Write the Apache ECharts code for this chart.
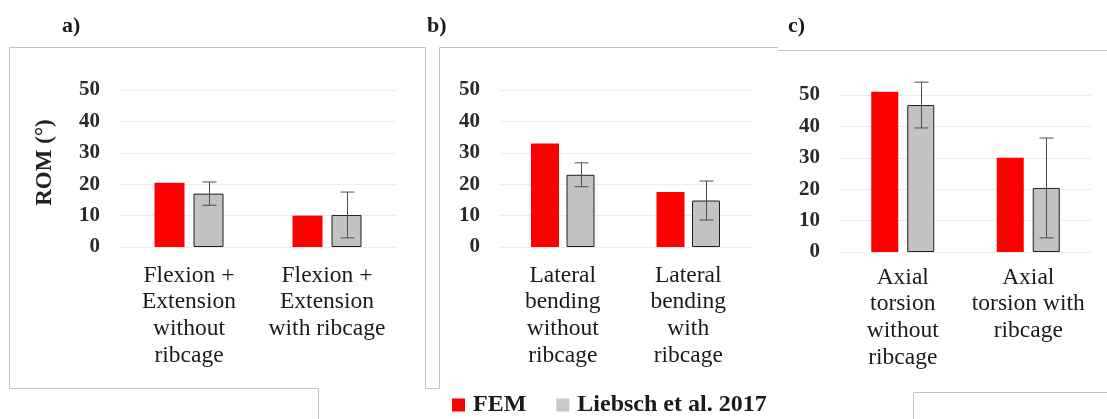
<!DOCTYPE html>
<html>
<head>
<meta charset="utf-8">
<script src="https://cdn.jsdelivr.net/npm/echarts@6/dist/echarts.min.js"></script>
<style>
html,body{margin:0;padding:0;background:#fff;}
#chart{width:1107px;height:419px;}
</style>
</head>
<body>
<div id="chart"></div>
<script>
// ---- data ----
const categoriesA = ['Flexion +\nExtension\nwithout\nribcage', 'Flexion +\nExtension\nwith ribcage'];
const categoriesB = ['Lateral\nbending\nwithout\nribcage', 'Lateral\nbending\nwith\nribcage'];
const categoriesC = ['Axial\ntorsion\nwithout\nribcage', 'Axial\ntorsion with\nribcage'];
const femA = [20.5, 10];
const liebschA = [17, 10.2];
const sdA = [3.7, 7.3];
const femB = [33, 17.5];
const liebschB = [23, 14.8];
const sdB = [3.8, 6.2];
const femC = [51, 30];
const liebschC = [46.8, 20.4];
const sdC = [7.3, 15.9];
const yTicks = [0, 10, 20, 30, 40, 50];
const panelTitles = ['a)', 'b)', 'c)'];
const seriesNames = ['FEM', 'Liebsch et al. 2017'];
const yAxisName = 'ROM (°)';

// ---- styling ----
const FONT = '"Liberation Serif", "Times New Roman", serif';
const RED = '#ff0000';
const GRAY = '#c2c2c2';
const grids = [
  {left: 120, width: 276, top: 90, height: 157, barW: 30, gap: 9, margin: 15},
  {left: 500, width: 251, top: 90, height: 157, barW: 28, gap: 7.5, margin: 15},
  {left: 840, width: 251, top: 95, height: 157, barW: 27, gap: 9, margin: 12}
];
const cats = [categoriesA, categoriesB, categoriesC];
const fem = [femA, femB, femC];
const lie = [liebschA, liebschB, liebschC];
const sds = [sdA, sdB, sdC];

const chart = echarts.init(document.getElementById('chart'), null, {renderer: 'canvas'});

const option = {
  backgroundColor: '#fff',
  animation: false,
  textStyle: {fontFamily: FONT},
  grid: grids.map(g => ({left: g.left, width: g.width, top: g.top, height: g.height, containLabel: false})),
  xAxis: grids.map((g, i) => ({
    type: 'category', gridIndex: i, data: cats[i],
    axisLine: {show: false}, axisTick: {show: false},
    axisLabel: {interval: 0, margin: g.margin, fontFamily: FONT, fontSize: 23.5, lineHeight: 26.8, color: '#1a1a1a'}
  })),
  yAxis: grids.map((g, i) => ({
    type: 'value', gridIndex: i, min: yTicks[0], max: yTicks[yTicks.length - 1], interval: yTicks[1] - yTicks[0],
    name: i === 0 ? yAxisName : '',
    nameLocation: 'middle', nameGap: 63, nameRotate: 90,
    nameTextStyle: {fontFamily: FONT, fontSize: 23, fontWeight: 'bold', color: '#222', padding: [0, 0, 0, 12]},
    axisLine: {show: false}, axisTick: {show: false},
    axisLabel: {margin: 20, fontFamily: FONT, fontSize: 21, fontWeight: 'bold', color: '#2a2a2a'},
    splitLine: {show: true, lineStyle: {color: '#ececec', width: 1}}
  })),
  legend: {
    left: 447, top: 388,
    itemWidth: 13, itemHeight: 13, itemGap: 30,
    icon: 'rect',
    textStyle: {fontFamily: FONT, fontSize: 24, fontWeight: 'bold', color: '#1a1a1a', padding: [0, 0, 0, 3]},
    data: [
      {name: seriesNames[0], itemStyle: {color: RED, borderWidth: 0}},
      {name: seriesNames[1], itemStyle: {color: '#c8c8c8', borderWidth: 0}}
    ]
  },
  graphic: [
    {type: 'text', left: 62, top: 15, style: {text: panelTitles[0], font: 'bold 22px ' + FONT, fill: '#1a1a1a'}},
    {type: 'text', left: 427, top: 15, style: {text: panelTitles[1], font: 'bold 22px ' + FONT, fill: '#1a1a1a'}},
    {type: 'text', left: 788, top: 15, style: {text: panelTitles[2], font: 'bold 22px ' + FONT, fill: '#1a1a1a'}},
    {type: 'polyline', silent: true, shape: {points: [[318.5, 419], [318.5, 388.5], [9.5, 388.5], [9.5, 47.5], [425.5, 47.5], [425.5, 388.5], [439.5, 388.5], [439.5, 47.5], [778, 47.5]]}, style: {stroke: '#c4c4c4', lineWidth: 1, fill: null}},
    {type: 'polyline', silent: true, shape: {points: [[778, 50.5], [1107, 50.5]]}, style: {stroke: '#c4c4c4', lineWidth: 1, fill: null}},
    {type: 'polyline', silent: true, shape: {points: [[913.5, 419], [913.5, 392.5], [1107, 392.5]]}, style: {stroke: '#c4c4c4', lineWidth: 1, fill: null}}
  ],
  series: []
};

grids.forEach((g, i) => {
  option.series.push({
    name: seriesNames[0], type: 'bar', xAxisIndex: i, yAxisIndex: i,
    data: fem[i], barWidth: g.barW, barGap: (g.gap / g.barW * 100) + '%', clip: false,
    itemStyle: {color: RED}
  });
  option.series.push({
    name: seriesNames[1], type: 'bar', xAxisIndex: i, yAxisIndex: i,
    data: lie[i], barWidth: g.barW, clip: false,
    itemStyle: {color: GRAY, borderColor: '#1f1f1f', borderWidth: 1}
  });
  const offset = (g.barW + g.gap) / 2;
  option.series.push({
    name: seriesNames[1], type: 'custom', xAxisIndex: i, yAxisIndex: i, z: 5, clip: false,
    data: lie[i].map((v, k) => [k, v, sds[i][k]]),
    renderItem: function (params, api) {
      const idx = api.value(0), m = api.value(1), s = api.value(2);
      const hi = api.coord([idx, m + s]);
      const lo = api.coord([idx, m - s]);
      const x = Math.round(hi[0] + offset) + 0.5;
      const cap = 7;
      const st = {stroke: '#4d4d4d', lineWidth: 1};
      return {type: 'group', children: [
        {type: 'line', shape: {x1: x, y1: hi[1], x2: x, y2: lo[1]}, style: st},
        {type: 'line', shape: {x1: x - cap, y1: hi[1], x2: x + cap, y2: hi[1]}, style: st},
        {type: 'line', shape: {x1: x - cap, y1: lo[1], x2: x + cap, y2: lo[1]}, style: st}
      ]};
    }
  });
});

chart.setOption(option);
</script>
</body>
</html>
